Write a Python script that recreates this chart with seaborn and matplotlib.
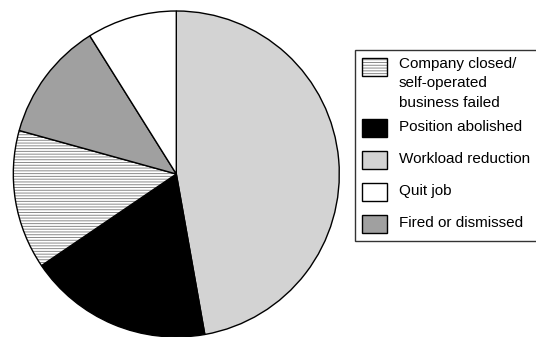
import matplotlib
matplotlib.use("Agg")
import matplotlib.pyplot as plt
import seaborn as sns
from matplotlib.colors import to_rgba
from matplotlib.patches import Rectangle
from matplotlib.legend_handler import HandlerPatch

# Reasons for job loss (percent of respondents)
categories = ["Workload reduction", "Position abolished",
              "Company closed/\nself-operated\nbusiness failed",
              "Fired or dismissed", "Quit job"]
shares = [47.2, 18.3, 13.8, 11.8, 8.9]
fills = ["#d3d3d3", "#000000", "#ffffff", "#a0a0a0", "#ffffff"]
hatches = [None, None, "------", None, None]
legend_order = [2, 1, 0, 4, 3]

sns.set_theme(style="white")
plt.rcParams["font.family"] = ["Liberation Sans", "DejaVu Sans"]
plt.rcParams["hatch.linewidth"] = 0.7

FS = 11          # legend font size, points
SW_H = 13.0      # swatch height, points


def swatch(legend, orig_handle, xdescent, ydescent, width, height, fontsize):
    # fixed-size swatch inside a taller handle box; the hatched one sits at
    # the top so it lines up with the first line of its label
    if orig_handle.get_hatch():
        y0 = -ydescent + height - SW_H - 0.7
    else:
        y0 = -ydescent + (height - SW_H) / 2 - 1.4
    return Rectangle((-xdescent, y0), width, SW_H)


fig = plt.figure(figsize=(5.36, 3.37), dpi=100)
ax = fig.add_axes([13.3 / 536, 0.0, 326 / 536, 326 / 337])

wedges, _ = ax.pie(shares, colors=fills, startangle=90, counterclock=False,
                   wedgeprops=dict(edgecolor="black", linewidth=1.0))
for w, h in zip(wedges, hatches):
    w.set_clip_on(False)
    if h:
        w.set_hatch(h)
        if hasattr(w, "set_hatchcolor"):
            w.set_hatchcolor("#8a8a8a")
        else:
            w._hatch_color = to_rgba("#8a8a8a")
ax.set_xlim(-1, 1)
ax.set_ylim(-1, 1)
ax.set_aspect("equal")

leg = fig.legend([wedges[i] for i in legend_order],
                 [categories[i] for i in legend_order],
                 loc="upper left", bbox_to_anchor=(355 / 536, 1 - 50 / 337),
                 fontsize=FS, frameon=True, fancybox=False, shadow=False,
                 borderaxespad=0, borderpad=0.45, handlelength=1.64,
                 handleheight=2.76, handletextpad=0.78, labelspacing=0.05,
                 handler_map={type(wedges[0]): HandlerPatch(patch_func=swatch)})
frame = leg.get_frame()
frame.set_edgecolor("black")
frame.set_linewidth(1.0)
for t in leg.get_texts():
    t.set_color("black")
    t.set_linespacing(1.5)

rows = leg._legend_handle_box.get_children()[0].get_children()
# the three-line label row is aligned at its top
rows[0].align = "top"
# trim the empty space under the last swatch
last_box = rows[-1].get_children()[0]
last_box.ydescent -= 2.2
last_box.height -= 2.2

fig.savefig("out.png", dpi=100)
